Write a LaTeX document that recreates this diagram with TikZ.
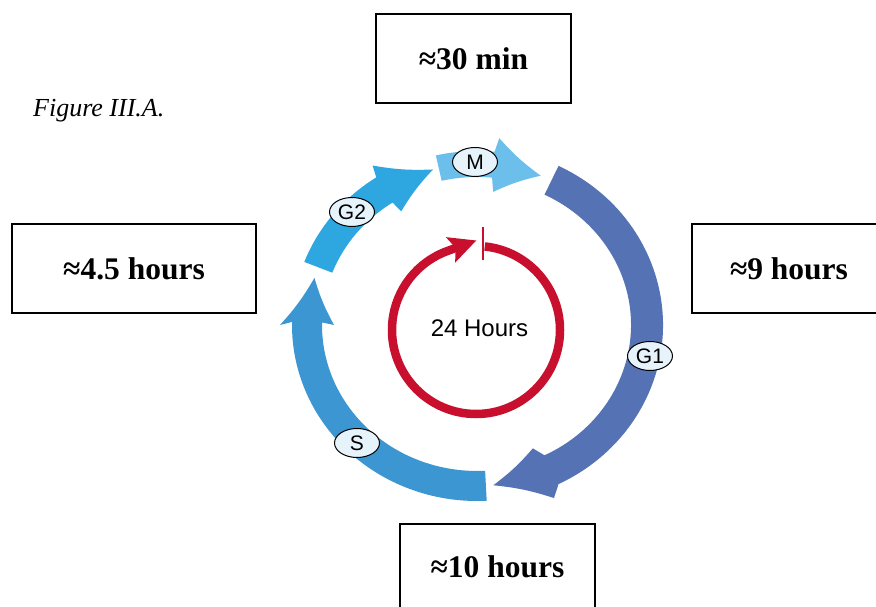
\documentclass[tikz,border=0pt]{standalone}
\usepackage{fontspec}
\setmainfont{Liberation Serif}
\setsansfont{Liberation Sans}
\usetikzlibrary{shapes.geometric,arrows.meta}

\definecolor{gonecol}{RGB}{84,114,180}
\definecolor{scol}{RGB}{59,150,210}
\definecolor{gtwocol}{RGB}{46,166,224}
\definecolor{mcol}{RGB}{108,190,235}
\definecolor{cyclered}{RGB}{200,16,46}
\definecolor{labelfill}{RGB}{230,243,251}

% One segment of the cell-cycle ring: an elliptic band ending in a broad head.
% #1 colour, #2 start angle, #3 angle where the head begins,
% #4 angle of the head's barbs, #5 angle of the tip, #6 half width of the band
\newcommand\ringarrow[6]{%
  \pgfmathsetmacro\rxo{170+#6}\pgfmathsetmacro\ryo{161+#6}%
  \pgfmathsetmacro\rxi{170-#6}\pgfmathsetmacro\ryi{161-#6}%
  \fill[#1] ({\rxo*cos(#2)},{\ryo*sin(#2)})
    arc[start angle=#2, end angle=#3, x radius=\rxo, y radius=\ryo]
    -- ({197*cos(#4)},{188*sin(#4)})
    to[bend right=6] ({170*cos(#5)},{161*sin(#5)})
    to[bend right=6] ({143*cos(#4)},{134*sin(#4)})
    -- ({\rxi*cos(#3)},{\ryi*sin(#3)})
    arc[start angle=#3, end angle=#2, x radius=\rxi, y radius=\ryi]
    -- cycle;}

\tikzset{
  timebox/.style={draw, line width=1.6pt, inner sep=0pt,
    minimum width=195pt, minimum height=89pt,
    font=\bfseries\fontsize{31.5}{36}\selectfont},
  phase/.style={ellipse, draw, line width=1pt, fill=labelfill, inner sep=0pt,
    minimum width=45pt, minimum height=29pt,
    font=\sffamily\fontsize{21}{24}\selectfont},
}

\begin{document}
\begin{tikzpicture}[x=1pt,y=1pt]
\useasboundingbox (0,0) rectangle (876,607);
\fill[white] (0,0) rectangle (876,607);

% caption
\node[anchor=base west, inner sep=0pt, font=\itshape\fontsize{26}{30}\selectfont]
  (caption) at (33,490) {Figure III.A.};

% ring of phases, drawn about its centre
\begin{scope}[shift={(477,282)}]
  \ringarrow{gonecol}{64}{-64}{-67}{-84.5}{16}
  \ringarrow{scol}{-87}{-181}{-180}{-197}{15}
  \ringarrow{gtwocol}{159}{123}{122}{105}{15}
  \ringarrow{mcol}{103}{84.5}{83.5}{68}{13}
\end{scope}

% phase labels
\node[phase] (M)  at (475,445) {M};
\node[phase] (G2) at (352,395) {G2};
\node[phase] (G1) at (650,251) {G1};
\node[phase] (S)  at (357,164) {S};

% inner 24-hour clock
\draw[cyclered, line width=8.5pt, -{Stealth[length=27pt,width=26pt,inset=5pt]}]
  (476,277) ++(84:84) arc[start angle=84, end angle=-250, radius=84] -- ++(20:31);
\draw[cyclered, line width=1.8pt] (483,380) -- (483,347);
\node[font=\sffamily\fontsize{24}{28}\selectfont, inner sep=0pt]
  (day) at (479.5,279) {24 Hours};

% durations
\node[timebox] (tM)  at (473.5,548.5) {≈30 min};
\node[timebox, minimum width=244pt] (tG2) at (134,338.5) {≈4.5 hours};
\node[timebox, minimum width=194pt] (tG1) at (789,338.5) {≈9 hours};
\node[timebox, minimum height=86pt] (tS) at (497.5,40) {≈10 hours};
\end{tikzpicture}
\end{document}
